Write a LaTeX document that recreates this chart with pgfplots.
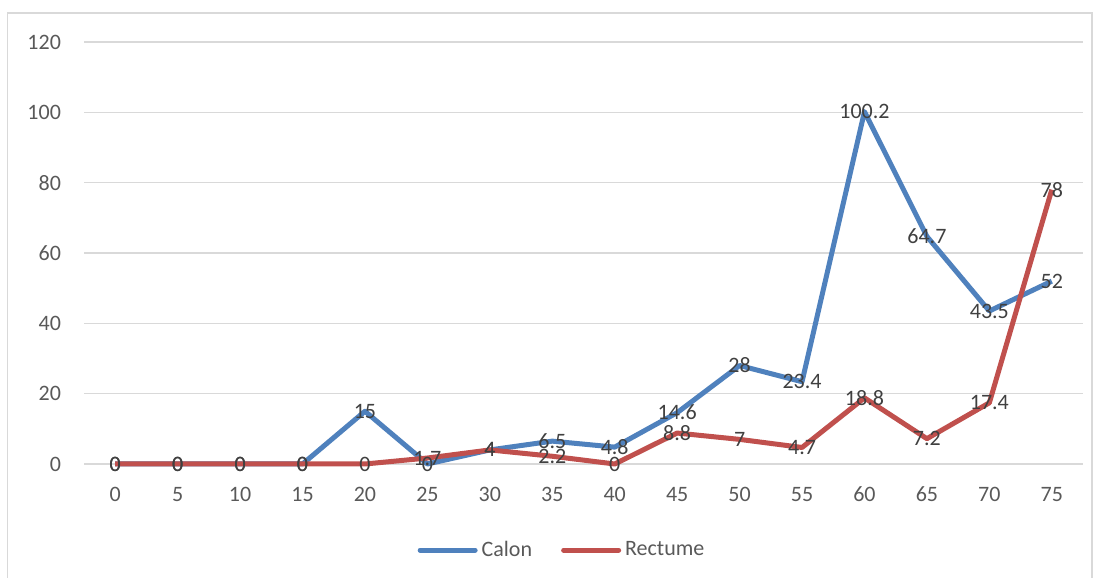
\documentclass[border=0pt]{standalone}
\usepackage{pgfplots}
\pgfplotsset{compat=1.18}
\usepackage{fontspec}
\setmainfont{Carlito}
\definecolor{cblue}{HTML}{4F81BD}
\definecolor{cred}{HTML}{C0504D}
\definecolor{tickc}{HTML}{595959}
\definecolor{labc}{HTML}{404040}
\definecolor{gridc}{HTML}{D9D9D9}
\begin{document}
\begin{tikzpicture}
\useasboundingbox (0,0) rectangle (549pt,289pt);
\draw[gridc, line width=0.75pt] (3.75pt,-5pt) rectangle (546pt,282.5pt);
\begin{axis}[
  at={(42pt,57pt)}, anchor=south west,
  scale only axis, width=499.5pt, height=211pt,
  xmin=-2.5, xmax=77.5, ymin=0, ymax=120,
  xtick={0,5,...,75}, ytick={0,20,...,120},
  axis line style={draw=none},
  tick style={draw=none},
  xmajorgrids=false, ymajorgrids=true,
  y grid style={gridc, line width=0.75pt},
  font=\fontsize{11}{13}\selectfont,
  /pgf/number format/assume math mode=true,
  ticklabel style={text=tickc},
  yticklabel style={anchor=east, xshift=-8pt},
  xticklabel style={yshift=-8pt},
  clip=false,
  legend style={at={(0.4795,-0.204)}, anchor=center, draw=none, fill=none,
    legend columns=2, font=\fontsize{11}{13}\selectfont, text=tickc,
    /tikz/every even column/.append style={column sep=12.5pt},
    legend cell align=left},
  legend image code/.code={\draw[#1, line cap=round] (0pt,0pt) -- (27.5pt,0pt);},
]
\addplot[cblue, line width=2.5pt, line join=round] coordinates {
 (0,0) (5,0) (10,0) (15,0) (20,15) (25,0) (30,4) (35,6.5) (40,4.8) (45,14.6)
 (50,28) (55,23.4) (60,100.2) (65,64.7) (70,43.5) (75,52)};
\addlegendentry{Calon}
\addplot[cred, line width=2.5pt, line join=round] coordinates {
 (0,0) (5,0) (10,0) (15,0) (20,0) (25,1.7) (30,4) (35,2.2) (40,0) (45,8.8)
 (50,7) (55,4.7) (60,18.8) (65,7.2) (70,17.4) (75,78)};
\addlegendentry{Rectume}
\addplot[draw=none, forget plot, nodes near coords,
  every node near coord/.append style={anchor=center, text=labc, font=\fontsize{11}{13}\selectfont, inner sep=0pt}]
 coordinates {
 (0,0) (5,0) (10,0) (15,0) (20,15) (25,0) (30,4) (35,6.5) (40,4.8) (45,14.6)
 (50,28) (55,23.4) (60,100.2) (65,64.7) (70,43.5) (75,52)};
\addplot[draw=none, forget plot, nodes near coords,
  every node near coord/.append style={anchor=center, text=labc, font=\fontsize{11}{13}\selectfont, inner sep=0pt}]
 coordinates {
 (0,0) (5,0) (10,0) (15,0) (20,0) (25,1.7) (30,4) (35,2.2) (40,0) (45,8.8)
 (50,7) (55,4.7) (60,18.8) (65,7.2) (70,17.4) (75,78)};
\end{axis}
\end{tikzpicture}
\end{document}
